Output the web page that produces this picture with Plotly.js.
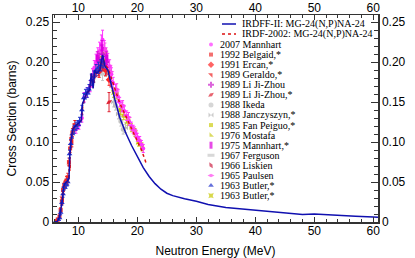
<!DOCTYPE html>
<html><head><meta charset="utf-8">
<script src="https://cdn.plot.ly/plotly-3.0.1.min.js"></script>
<style>html,body{margin:0;padding:0;background:#fff;}#chart{width:415px;height:258px;}</style>
</head><body><div id="chart"></div>
<script>
// ---- evaluated curves ----
const irdffE = [5.8,6.4,6.8,7.0,7.3,7.5,7.7,8.0,8.4,8.55,8.8,9.1,9.7,10.5,10.7,11.4,11.9,12.2,12.5,12.8,13.1,13.65,14.1,14.5,15.0,15.6,16.2,17.0,18.0,19.0,20.0,21.0,22.0,23.0,24.0,25.0,26.0,27.0,28.0,30.0,32.0,35.0,38.0,41.0,45.0,48.0,50.0,52.0,54.0,57.0,60.0,60.8];
const irdffS = [0.0,0.0005,0.006,0.013,0.028,0.044,0.048,0.050,0.054,0.082,0.106,0.117,0.121,0.127,0.148,0.161,0.165,0.186,0.167,0.190,0.186,0.190,0.209,0.195,0.190,0.170,0.153,0.131,0.112,0.096,0.081,0.068,0.057,0.048,0.041,0.036,0.033,0.031,0.029,0.026,0.022,0.018,0.016,0.014,0.011,0.0095,0.010,0.009,0.0082,0.0072,0.0062,0.006];
const irdfE = [6.0,6.5,7.0,7.3,7.5,8.0,8.4,8.6,8.9,9.2,9.7,10.5,10.8,11.4,11.9,12.2,12.5,12.8,13.1,13.6,14.1,14.5,15.0,15.5,16.0,16.5,17.0,17.5,18.0,18.5,19.0,19.3,20.0,20.7,21.2,21.6];
const irdfS = [0.0,0.002,0.012,0.028,0.043,0.049,0.054,0.085,0.108,0.117,0.121,0.127,0.148,0.161,0.165,0.184,0.168,0.188,0.186,0.190,0.207,0.196,0.193,0.182,0.170,0.160,0.149,0.141,0.133,0.125,0.118,0.113,0.103,0.090,0.080,0.071];

// ---- experimental data ----
const mannhart2007E = [9.6,10.1,10.6,11.0,11.5,12.0,12.4,12.7,13.0,13.3,13.6,13.9,14.1,14.4,14.7,15.0,15.3,15.6,15.9,16.3,16.7,17.0,17.4,17.8,18.2,18.6,19.0,19.3,19.7,20.0,20.4,20.7,21.0];
const mannhart2007S = [0.116,0.121,0.130,0.156,0.162,0.170,0.184,0.193,0.200,0.208,0.214,0.222,0.228,0.216,0.208,0.202,0.195,0.185,0.174,0.165,0.157,0.150,0.144,0.139,0.133,0.126,0.120,0.116,0.111,0.106,0.102,0.097,0.092];
const mannhart2007Err = [0.005,0.005,0.005,0.006,0.006,0.007,0.008,0.009,0.010,0.010,0.011,0.012,0.012,0.011,0.010,0.009,0.008,0.008,0.007,0.007,0.007,0.006,0.006,0.006,0.006,0.005,0.005,0.005,0.005,0.005,0.005,0.005,0.005];
const belgaid1992E = [6.2,6.5,6.8,7.0,7.2,7.4,7.6,7.8,8.0,8.2,8.4,8.6,8.8,9.0,9.3];
const belgaid1992S = [0.001,0.003,0.007,0.015,0.026,0.040,0.045,0.048,0.052,0.056,0.075,0.092,0.104,0.112,0.118];
const belgaid1992Err = [0.002,0.002,0.003,0.003,0.004,0.004,0.004,0.004,0.005,0.005,0.005,0.005,0.005,0.005,0.005];
const ercan1991E = [13.5,14.0,14.6,15.2];
const ercan1991S = [0.188,0.196,0.190,0.178];
const ercan1991Err = [0.007,0.007,0.007,0.007];
const geraldo1989E = [7.3,7.7,8.1,8.5,8.9,9.4];
const geraldo1989S = [0.030,0.047,0.052,0.070,0.100,0.121];
const geraldo1989Err = [0.004,0.004,0.005,0.005,0.006,0.006];
const liJiZhou1989E = [13.5,14.1,14.7];
const liJiZhou1989S = [0.203,0.210,0.200];
const liJiZhou1989Err = [0.008,0.008,0.008];
const liJiZhou1989bE = [12.9,13.6,14.2,15.2];
const liJiZhou1989bS = [0.190,0.196,0.200,0.150];
const liJiZhou1989bErr = [0.008,0.008,0.008,0.012];
const ikeda1988E = [13.4,13.9,14.3,14.8,16.3,17.2,17.6];
const ikeda1988S = [0.192,0.196,0.200,0.190,0.146,0.126,0.116];
const ikeda1988Err = [0.007,0.007,0.007,0.007,0.006,0.006,0.006];
const janczyszyn1988E = [13.6,14.1,14.6,16.0,16.8,18.0];
const janczyszyn1988S = [0.188,0.195,0.192,0.150,0.135,0.118];
const janczyszyn1988Err = [0.007,0.007,0.007,0.006,0.006,0.006];
const fanPeiguo1985E = [13.5,14.6,15.3,16.5,17.7,19.0,20.8];
const fanPeiguo1985S = [0.205,0.210,0.188,0.160,0.133,0.118,0.094];
const fanPeiguo1985Err = [0.007,0.007,0.006,0.006,0.005,0.005,0.005];
const mostafa1976E = [14.1,14.7];
const mostafa1976S = [0.203,0.196];
const mostafa1976Err = [0.008,0.008];
const mannhart1975E = [13.2,14.0,14.8];
const mannhart1975S = [0.205,0.218,0.205];
const mannhart1975Err = [0.008,0.009,0.008];
const ferguson1967E = [14.1,14.6];
const ferguson1967S = [0.185,0.190];
const ferguson1967Err = [0.008,0.008];
const liskien1966E = [12.6,13.4,14.1,14.8,15.5];
const liskien1966S = [0.182,0.190,0.197,0.192,0.176];
const liskien1966Err = [0.007,0.007,0.007,0.007,0.007];
const paulsen1965E = [12.5,13.5,14.5,15.5,16.5,17.5,18.5,19.5];
const paulsen1965S = [0.183,0.205,0.215,0.188,0.166,0.146,0.131,0.114];
const paulsen1965Err = [0.008,0.009,0.009,0.008,0.007,0.006,0.006,0.005];
const butler1963aE = [6.8,7.0,7.2,7.4,7.6,7.9,8.2,8.5,8.7,9.0,9.3,9.6,9.9,10.2,10.6,10.9,11.2,11.5,11.8,12.2,12.6,13.0,13.4,13.8,14.2];
const butler1963aS = [0.005,0.012,0.024,0.035,0.044,0.046,0.050,0.085,0.098,0.110,0.116,0.120,0.122,0.126,0.140,0.155,0.160,0.162,0.166,0.178,0.182,0.190,0.193,0.196,0.200];
const butler1963aErr = [0.003,0.003,0.003,0.004,0.004,0.004,0.004,0.005,0.005,0.005,0.005,0.005,0.005,0.005,0.006,0.006,0.006,0.006,0.006,0.007,0.007,0.007,0.007,0.007,0.007];
const butler1963bE = [13.8,14.4,16.0,17.2,18.4,19.6,20.2];
const butler1963bS = [0.200,0.205,0.162,0.140,0.126,0.112,0.100];
const butler1963bErr = [0.007,0.007,0.006,0.006,0.005,0.005,0.005];

const curveNames = ['IRDFF-II: MG-24(N,P)NA-24','IRDF-2002: MG-24(N,P)NA-24'];
const xTickVals = [10,20,30,40,50,60];
const yTickVals = [0,0.05,0.10,0.15,0.20,0.25];
const yTickText = ['0','0.05','0.10','0.15','0.20','0.25'];

const datasets = [
  {name:'2007 Mannhart', E:mannhart2007E, S:mannhart2007S, err:mannhart2007Err, symbol:'circle', color:'#ff33ff', size:4},
  {name:'1992 Belgaid,*', E:belgaid1992E, S:belgaid1992S, err:belgaid1992Err, symbol:'square', color:'#ee3333', size:4},
  {name:'1991 Ercan,*', E:ercan1991E, S:ercan1991S, err:ercan1991Err, symbol:'diamond', color:'#ff2222', size:5},
  {name:'1989 Geraldo,*', E:geraldo1989E, S:geraldo1989S, err:geraldo1989Err, symbol:'triangle-ne', color:'#ee2222', size:5},
  {name:'1989 Li Ji-Zhou', E:liJiZhou1989E, S:liJiZhou1989S, err:liJiZhou1989Err, symbol:'cross', color:'#cc22cc', size:5},
  {name:'1989 Li Ji-Zhou,*', E:liJiZhou1989bE, S:liJiZhou1989bS, err:liJiZhou1989bErr, symbol:'diamond-wide', color:'#dd2233', size:5, angle:-35},
  {name:'1988 Ikeda', E:ikeda1988E, S:ikeda1988S, err:ikeda1988Err, symbol:'circle-x', color:'#c4c4c4', size:5},
  {name:'1988 Janczyszyn,*', E:janczyszyn1988E, S:janczyszyn1988S, err:janczyszyn1988Err, symbol:'bowtie', color:'#b8b8b8', size:5},
  {name:'1985 Fan Peiguo,*', E:fanPeiguo1985E, S:fanPeiguo1985S, err:fanPeiguo1985Err, symbol:'square', color:'#cccc11', size:4},
  {name:'1976 Mostafa', E:mostafa1976E, S:mostafa1976S, err:mostafa1976Err, symbol:'triangle-sw', color:'#cccc22', size:5},
  {name:'1975 Mannhart,*', E:mannhart1975E, S:mannhart1975S, err:mannhart1975Err, symbol:'line-ns', color:'#dd00dd', size:5, lw:3},
  {name:'1967 Ferguson', E:ferguson1967E, S:ferguson1967S, err:ferguson1967Err, symbol:'line-ew', color:'#c8c8c8', size:5, lw:3},
  {name:'1966 Liskien', E:liskien1966E, S:liskien1966S, err:liskien1966Err, symbol:'diamond-tall', color:'#cc2244', size:5, angle:-30},
  {name:'1965 Paulsen', E:paulsen1965E, S:paulsen1965S, err:paulsen1965Err, symbol:'diamond-wide', color:'#ff44ee', size:5},
  {name:'1963 Butler,*', E:butler1963aE, S:butler1963aS, err:butler1963aErr, symbol:'triangle-up', color:'#2233cc', size:5},
  {name:'1963 Butler,*', E:butler1963bE, S:butler1963bS, err:butler1963bErr, symbol:'star-square', color:'#c8c800', size:5}
];

const drawOrder = [6,7,11,8,9,15,1,3,2,5,12,0,13,4,10,14];
const traces = [];
drawOrder.forEach(i => {
  const d = datasets[i];
  const mk = {symbol:d.symbol, color:d.color, size:d.size, line:{width:d.lw||0, color:d.color}};
  if (d.angle) mk.angle = d.angle;
  traces.push({type:'scatter', mode:'markers', x:d.E, y:d.S, name:d.name, showlegend:false, hoverinfo:'skip',
    marker:mk, error_y:{type:'data', array:d.err, visible:true, color:d.color, thickness:1, width:1.5}, cliponaxis:true});
});
traces.push({type:'scatter', mode:'lines', x:irdfE, y:irdfS, showlegend:false, hoverinfo:'skip',
  line:{color:'#dd1111', width:1.5, dash:'dot'}});
traces.push({type:'scatter', mode:'lines', x:irdffE, y:irdffS, showlegend:false, hoverinfo:'skip',
  line:{color:'#1010b0', width:1.5}});
// top/right axes carrier
traces.push({type:'scatter', x:[], y:[], xaxis:'x2', yaxis:'y2', showlegend:false, hoverinfo:'skip'});

// ---- custom legend (pixel coordinates on hidden axes) ----
const legX = 211, legTextX = 218.5, legY0 = 44.5, legStep = 10.07;
const legYs = datasets.map((d,i) => legY0 + i*legStep);
traces.push({type:'scatter', mode:'markers', xaxis:'x3', yaxis:'y3', showlegend:false, hoverinfo:'skip',
  x:datasets.map(() => legX), y:legYs,
  marker:{symbol:datasets.map(d=>d.symbol), color:datasets.map(d=>d.color), size:datasets.map(d=>d.size),
    angle:datasets.map(d=>d.angle||0), line:{width:datasets.map(d=>d.lw||0), color:datasets.map(d=>d.color)}}});
const lineLegY = [24, 34];
const lineLegStyle = [{color:'#1010b0', width:1.5}, {color:'#dd1111', width:1.5, dash:'dot'}];
lineLegY.forEach((y,i) => {
  traces.push({type:'scatter', mode:'lines', xaxis:'x3', yaxis:'y3', showlegend:false, hoverinfo:'skip',
    x:[222,236], y:[y,y], line:lineLegStyle[i]});
});
const annotations = [];
datasets.forEach((d,i) => annotations.push({xref:'x3', yref:'y3', x:legTextX, y:legYs[i], text:d.name, showarrow:false,
  xanchor:'left', yanchor:'middle', font:{family:'Liberation Serif', size:10, color:'#000'}, borderpad:0}));
curveNames.forEach((n,i) => annotations.push({xref:'x3', yref:'y3', x:240.5, y:lineLegY[i], text:n, showarrow:false,
  xanchor:'left', yanchor:'middle', font:{family:'Liberation Serif', size:10, color:'#000'}, borderpad:0}));

const xRange = [5.7, 60.8];
const yRange = [0, 0.259];
const tickFont = {family:'Liberation Sans, Arial, sans-serif', size:12, color:'#000'};
const common = {showgrid:false, zeroline:false, showline:true, linecolor:'#333', linewidth:1.5,
  ticks:'inside', tickcolor:'#333', tickwidth:1, tickfont:tickFont, fixedrange:true};

const layout = {
  width:415, height:258,
  margin:{l:53, r:37, t:15, b:36, pad:0},
  paper_bgcolor:'#fff', plot_bgcolor:'#fff',
  showlegend:false,
  font:{family:'Liberation Sans, Arial, sans-serif', size:12, color:'#000'},
  xaxis:Object.assign({}, common, {range:xRange, tickvals:xTickVals, ticklen:5, ticklabelstandoff:-3,
    minor:{dtick:2, tick0:0, ticks:'inside', ticklen:3, tickcolor:'#333'},
    title:{text:'Neutron Energy (MeV)', font:{size:12}, standoff:9}}),
  yaxis:Object.assign({}, common, {range:yRange, tickvals:yTickVals, ticktext:yTickText, ticklen:7,
    minor:{dtick:0.01, tick0:0, ticks:'inside', ticklen:4, tickcolor:'#333'},
    title:{text:'Cross Section (barns)', font:{size:12}, standoff:6}}),
  xaxis2:Object.assign({}, common, {overlaying:'x', side:'top', anchor:'y2', range:xRange, tickvals:xTickVals, ticklen:5, ticklabelstandoff:-3,
    minor:{dtick:2, tick0:0, ticks:'inside', ticklen:3, tickcolor:'#333'}}),
  yaxis2:Object.assign({}, common, {overlaying:'y', side:'right', anchor:'x2', range:yRange, tickvals:yTickVals, ticktext:yTickText, ticklen:7,
    minor:{dtick:0.01, tick0:0, ticks:'inside', ticklen:4, tickcolor:'#333'}}),
  xaxis3:{overlaying:'x', anchor:'y3', range:[53,378], visible:false, fixedrange:true},
  yaxis3:{overlaying:'y', anchor:'x3', range:[222,15], visible:false, fixedrange:true},
  annotations:annotations
};

Plotly.newPlot('chart', traces, layout, {staticPlot:true, displayModeBar:false});
</script></body></html>
